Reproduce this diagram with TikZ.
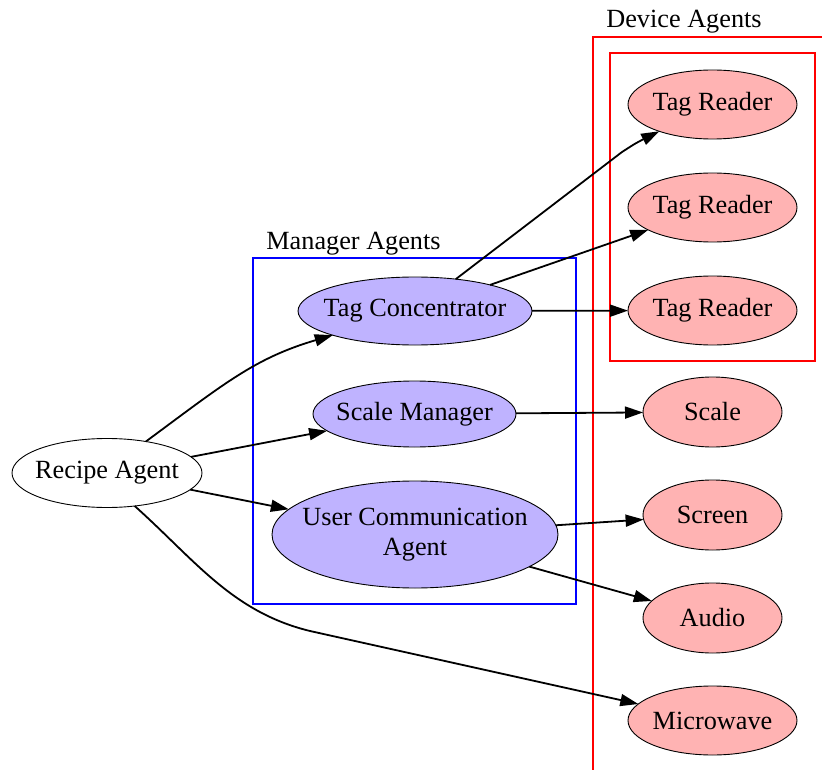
\documentclass[tikz,border=0pt]{standalone}
\usepackage{fontspec}
\setmainfont{Liberation Serif}
\usetikzlibrary{shapes.geometric,arrows.meta}

\definecolor{mgrfill}{RGB}{191,179,255}
\definecolor{devfill}{RGB}{255,179,179}

\tikzset{
  agent/.style={ellipse, draw=black, line width=0.9pt, inner sep=0pt, outer sep=0pt},
  agenttext/.style={font=\fontsize{26.25}{30}\selectfont},
  mgr/.style={agent, fill=mgrfill},
  dev/.style={agent, fill=devfill},
  edge/.style={line width=1.8pt, -{Triangle[length=18pt,width=12pt]}},
  groupbox/.style={line width=2pt},
  grouptitle/.style={font=\fontsize{26.25}{30}\selectfont, anchor=base, inner sep=0pt}
}

\begin{document}
\begin{tikzpicture}[x=1pt,y=-1pt]
\useasboundingbox (0,0) rectangle (822,770);
\clip (0,0) rectangle (822,770);

% cluster frames
\draw[groupbox, red] (593,800) -- (593,37) -- (850,37);
\node[grouptitle] (devtitle) at (684,28) {Device Agents};
\draw[groupbox, red] (610,53) rectangle (815,361);
\draw[groupbox, blue] (253,258) rectangle (576,604);
\node[grouptitle] (mgrtitle) at (353.5,250) {Manager Agents};

% agents
\node[agent, minimum width=190pt, minimum height=69pt,
      label={[agenttext]center:Recipe Agent}] (ra) at (107,473) {};
\node[mgr, minimum width=234pt, minimum height=68pt,
      label={[agenttext]center:Tag Concentrator}] (tc) at (415,311) {};
\node[mgr, minimum width=203pt, minimum height=66pt,
      label={[agenttext]center:Scale Manager}] (sm) at (414.5,414) {};
\node[mgr, minimum width=286pt, minimum height=107pt,
      label={[agenttext, align=center]center:User Communication\\Agent}] (uca) at (415,534.5) {};

\node[dev, minimum width=169pt, minimum height=69pt,
      label={[agenttext]center:Tag Reader}] (tr1) at (712.5,104.5) {};
\node[dev, minimum width=169pt, minimum height=69pt,
      label={[agenttext]center:Tag Reader}] (tr2) at (712.5,207.5) {};
\node[dev, minimum width=169pt, minimum height=69pt,
      label={[agenttext]center:Tag Reader}] (tr3) at (712.5,310.5) {};
\node[dev, minimum width=139pt, minimum height=70pt,
      label={[agenttext]center:Scale}] (sc) at (712.5,412) {};
\node[dev, minimum width=139pt, minimum height=70pt,
      label={[agenttext]center:Screen}] (scr) at (712.5,515) {};
\node[dev, minimum width=139pt, minimum height=70pt,
      label={[agenttext]center:Audio}] (au) at (712.5,618) {};
\node[dev, minimum width=169pt, minimum height=69pt,
      label={[agenttext]center:Microwave}] (mw) at (712.5,720.5) {};

% connections
\draw[edge] (ra.39) .. controls (225,383) and (255,358) .. (tc);
\draw[edge] (ra) -- (sm);
\draw[edge] (ra) -- (uca);
\draw[edge] (ra.-50) .. controls (195,560) and (232,612) .. (310,631) -- (mw);

\draw[edge] (tc.38) -- (622,152) .. controls (636,143) .. (tr1);
\draw[edge] (tc) -- (tr2);
\draw[edge] (tc) -- (tr3);
\draw[edge] (sm) -- (sc);
\draw[edge] (uca) -- (scr);
\draw[edge] (uca) -- (au);
\end{tikzpicture}
\end{document}
